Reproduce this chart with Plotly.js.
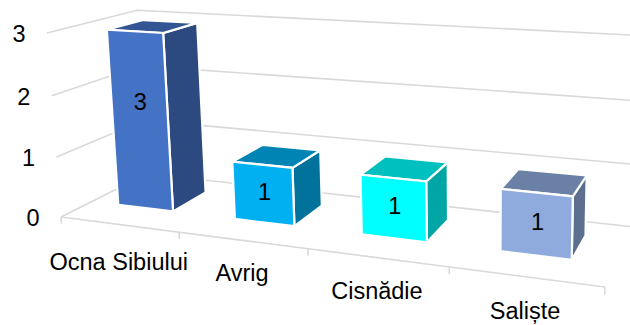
<!DOCTYPE html>
<html><head><meta charset="utf-8">
<script src="https://cdn.plot.ly/plotly-3.0.1.min.js"></script>
<style>html,body{margin:0;padding:0;background:#fff}#c{width:630px;height:325px}</style>
</head><body><div id="c"></div>
<script>
const categories = ['Ocna Sibiului','Avrig','Cisnădie','Saliște'];
const values = [3,1,1,1];
const yTicks = [0,1,2,3];
const frontColors = ['#4472C4','#00B0F0','#00FFFF','#8FAADC'];
const sideColors  = ['#2C4A7F','#00729C','#00A6A6','#5D6F8F'];
const topColors   = ['#335593','#0084B4','#00BFBF','#6B80A5'];
const labelDrop = [40,35,36,36];

// perspective camera: category position u, depth d, value v -> page pixels
function project(u,d,v){
  const w = 1 - 0.0421*u + 0.13*d - 0.0108*v;
  return [(61 + 110.5*u + 105.1*d - 5.17*v)/w,
          (217 + 5.4*u - 20.6*d - 61.7*v)/w];
}
const BAR = {u0:0.24,u1:0.72,d0:0.33,d1:0.75,inset:0.055};
const grey = '#D9D9D9', font = 'Liberation Sans, Arial, sans-serif', fs = 23.5;

const traces = [];
function path(pts,line){
  const p = pts.map(a=>project(a[0],a[1],a[2]));
  return {x:p.map(q=>q[0]),y:p.map(q=>q[1]),mode:'lines',line,hoverinfo:'skip',showlegend:false};
}
function face(pts,color){
  const t = path(pts.concat([pts[0]]),{color:'#fff',width:2.2});
  t.fill='toself'; t.fillcolor=color; return t;
}
// gridlines on left and back walls
yTicks.forEach(v=>traces.push(path([[0,0,v],[0,1,v],[4,1,v]],{color:grey,width:1.6})));
// floor front edge and ticks
traces.push(path([[0,0,0],[4,0,0]],{color:grey,width:1.6}));
categories.concat(['']).forEach((_,i)=>traces.push(path([[i,0,0],[i,0,-0.11]],{color:grey,width:1.6})));
// bars
values.forEach((val,i)=>{
  const a=i+BAR.u0,b=i+BAR.u1,f=BAR.d0,k=BAR.d1,t=val-BAR.inset;
  traces.push(face([[b,f,0],[b,k,0],[b,k,t],[b,f,t]],sideColors[i]));
  traces.push(face([[a,f,t],[b,f,t],[b,k,t],[a,k,t]],topColors[i]));
  traces.push(face([[a,f,0],[b,f,0],[b,f,t],[a,f,t]],frontColors[i]));
});
function textTrace(pts,txt){
  return {x:pts.map(p=>p[0]),y:pts.map(p=>p[1]),text:txt,mode:'text',textposition:'middle center',
    textfont:{family:font,size:fs,color:'#000'},hoverinfo:'skip',showlegend:false,cliponaxis:false};
}
// data labels on the front face
traces.push(textTrace(values.map((val,i)=>project(i+0.49,BAR.d0,(val-BAR.inset)/2+(val-1)*0.14)),values.map(String)));
// category labels under front edge
traces.push(textTrace(categories.map((c,i)=>{const p=project(i+0.5,0,0);return [p[0],p[1]+labelDrop[i]];}),categories));
// value-axis labels left of the wall
traces.push(textTrace(yTicks.map(v=>{const p=project(0,0,v);return [p[0]-28,p[1]+3];}),yTicks.map(String)));

const layout = {width:630,height:325,margin:{l:0,r:0,t:0,b:0},paper_bgcolor:'#fff',plot_bgcolor:'#fff',showlegend:false,
  xaxis:{range:[0,630],visible:false,fixedrange:true},
  yaxis:{range:[325,0],visible:false,fixedrange:true}};
Plotly.newPlot('c',traces,layout,{displayModeBar:false,staticPlot:true});
</script></body></html>
